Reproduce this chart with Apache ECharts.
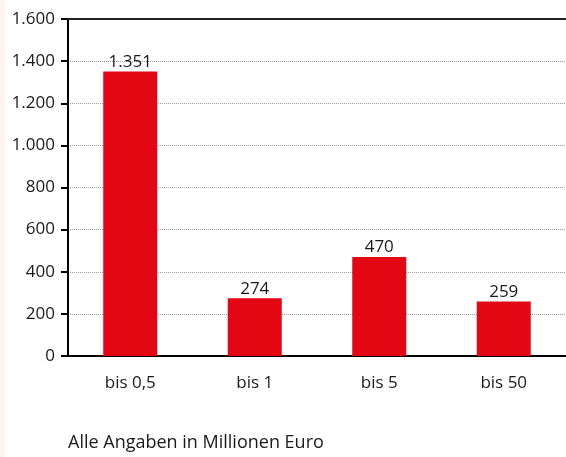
<!DOCTYPE html>
<html>
<head>
<meta charset="utf-8">
<script src="https://cdn.jsdelivr.net/npm/echarts@6/dist/echarts.min.js"></script>
<style>
  html, body { margin: 0; padding: 0; background: #fff; }
  #strip { position: absolute; left: 0; top: 0; width: 5px; height: 457px; background: #fdf4ee; }
  #chart { width: 566px; height: 457px; }
</style>
</head>
<body>
<div id="strip"></div>
<div id="chart"></div>
<script>
// Daten
const categories = ['bis 0,5', 'bis 1', 'bis 5', 'bis 50'];
const values = [1351, 274, 470, 259];
const yMin = 0, yMax = 1600, yStep = 200;
const note = 'Alle Angaben in Millionen Euro';

const FONT = 'Open Sans';
const TEXT = '#1a1a1a';

// Tausenderpunkt wie im Original
const fmt = v => String(v).replace(/\B(?=(\d{3})+(?!\d))/g, '.');

const chart = echarts.init(document.getElementById('chart'));
chart.setOption({
    animation: false,
    textStyle: { fontFamily: FONT },
    grid: { left: 68, right: -3, top: 19, bottom: 101 },
    xAxis: [{
        type: 'category',
        data: categories,
        axisLine: { lineStyle: { color: '#000', width: 2 } },
        axisTick: { show: false },
        axisLabel: { color: TEXT, fontSize: 17, margin: 19, fontFamily: FONT }
    }, {
        // obere Linie bei 1.600
        type: 'category',
        position: 'top',
        data: categories,
        axisLine: { lineStyle: { color: '#222', width: 2 } },
        axisTick: { show: false },
        axisLabel: { show: false }
    }],
    yAxis: {
        type: 'value',
        min: yMin,
        max: yMax,
        interval: yStep,
        axisLine: { show: true, lineStyle: { color: '#000', width: 2 } },
        axisTick: { show: true, length: 7, lineStyle: { color: '#000', width: 2 } },
        axisLabel: { color: TEXT, fontSize: 17, margin: 13, fontFamily: FONT, formatter: fmt },
        splitLine: { lineStyle: { color: '#999', type: 'dotted', width: 1 } }
    },
    series: [{
        type: 'bar',
        data: values,
        barWidth: 54,
        itemStyle: { color: '#e30613' },
        label: {
            show: true,
            position: 'top',
            distance: 1,
            color: TEXT,
            fontSize: 17,
            fontFamily: FONT,
            formatter: p => fmt(p.value)
        }
    }],
    graphic: [{
        type: 'text',
        left: 68,
        top: 434,
        style: { text: note, fill: TEXT, fontSize: 18, fontFamily: FONT }
    }]
});
</script>
</body>
</html>
